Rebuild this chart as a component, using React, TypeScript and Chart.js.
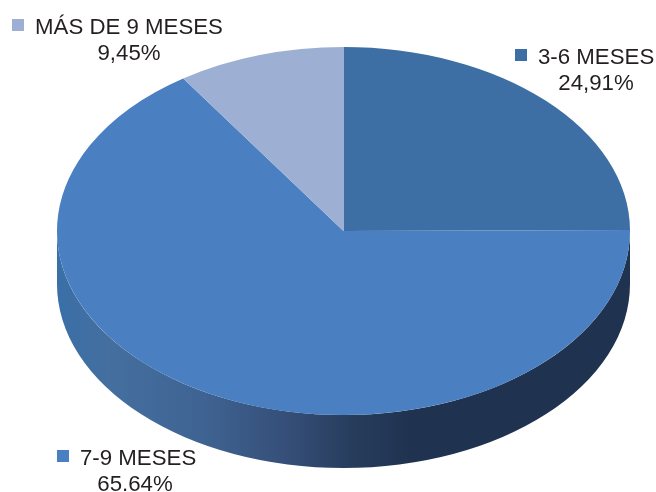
import React, { useEffect, useRef } from "react";
import { Chart, registerables } from "chart.js";

Chart.register(...registerables);

const categories = ["3-6 MESES", "7-9 MESES", "MÁS DE 9 MESES"];
const seriesValues = [24.91, 65.64, 9.45];
const percentLabels = ["24,91%", "65.64%", "9,45%"];
const sliceColors = ["#3d6fa5", "#4a7fc1", "#9db0d4"];

const W = 656;
const H = 492;
const CX = 343.5;
const CY = 231;
const RX = 286.5;
const RY = 184;
const DEPTH = 53;

const labelBoxes = [
  { sx: 515, sy: 49, tx: 538, ty: 64, px: 596, py: 90 },
  { sx: 57, sy: 450, tx: 80, ty: 465, px: 135, py: 491 },
  { sx: 12, sy: 19, tx: 35, ty: 34, px: 129, py: 60 },
];

const pie3d = {
  id: "pie3d",
  beforeDatasetDraw(chart: any) {
    const ctx = chart.ctx;
    const arcs = chart.getDatasetMeta(0).data;
    const first = arcs[0];
    const { x, y, outerRadius } = first.getProps(["x", "y", "outerRadius"], true);
    // Side wall of the disc: front half of the ellipse, extruded downwards
    const g = ctx.createLinearGradient(CX - RX, 0, CX + RX, 0);
    g.addColorStop(0, "#3a6fa8");
    g.addColorStop(0.09, "#446f9f");
    g.addColorStop(0.25, "#3f6493");
    g.addColorStop(0.4, "#354f78");
    g.addColorStop(0.52, "#273c5c");
    g.addColorStop(0.62, "#1f3350");
    g.addColorStop(1, "#1f3350");
    ctx.save();
    ctx.beginPath();
    ctx.ellipse(CX, CY, RX, RY, 0, 0, Math.PI);
    ctx.lineTo(CX - RX, CY + DEPTH);
    ctx.ellipse(CX, CY + DEPTH, RX, RY, 0, Math.PI, 0, true);
    ctx.closePath();
    ctx.fillStyle = g;
    ctx.fill();
    ctx.restore();
    // The top face is the library's own arcs, seen at an angle
    ctx.save();
    ctx.translate(CX, CY);
    ctx.scale(RX / outerRadius, RY / outerRadius);
    ctx.translate(-x, -y);
  },
  afterDatasetDraw(chart: any) {
    chart.ctx.restore();
  },
  afterDraw(chart: any) {
    const ctx = chart.ctx;
    ctx.save();
    ctx.font = "22.25px 'Liberation Sans', Arial, sans-serif";
    ctx.textBaseline = "alphabetic";
    categories.forEach((name, i) => {
      const b = labelBoxes[i];
      ctx.fillStyle = sliceColors[i];
      ctx.fillRect(b.sx, b.sy, 12, 12);
      ctx.fillStyle = "#231f20";
      ctx.textAlign = "left";
      ctx.fillText(name, b.tx, b.ty);
      ctx.textAlign = "center";
      ctx.fillText(percentLabels[i], b.px, b.py);
    });
    ctx.restore();
  },
};

export default function App() {
  const ref = useRef<HTMLCanvasElement>(null);
  useEffect(() => {
    const chart = new Chart(ref.current!, {
      type: "pie",
      data: {
        labels: categories,
        datasets: [
          {
            data: seriesValues,
            backgroundColor: sliceColors,
            borderWidth: 0,
            hoverOffset: 0,
          },
        ],
      },
      options: {
        responsive: false,
        animation: false,
        events: [],
        layout: { padding: 0 },
        plugins: { legend: { display: false }, tooltip: { enabled: false } },
      },
      plugins: [pie3d],
    });
    return () => chart.destroy();
  }, []);
  return (
    <canvas
      ref={ref}
      width={W}
      height={H}
      style={{ position: "fixed", left: 0, top: 0, display: "block", background: "#fff" }}
    />
  );
}
